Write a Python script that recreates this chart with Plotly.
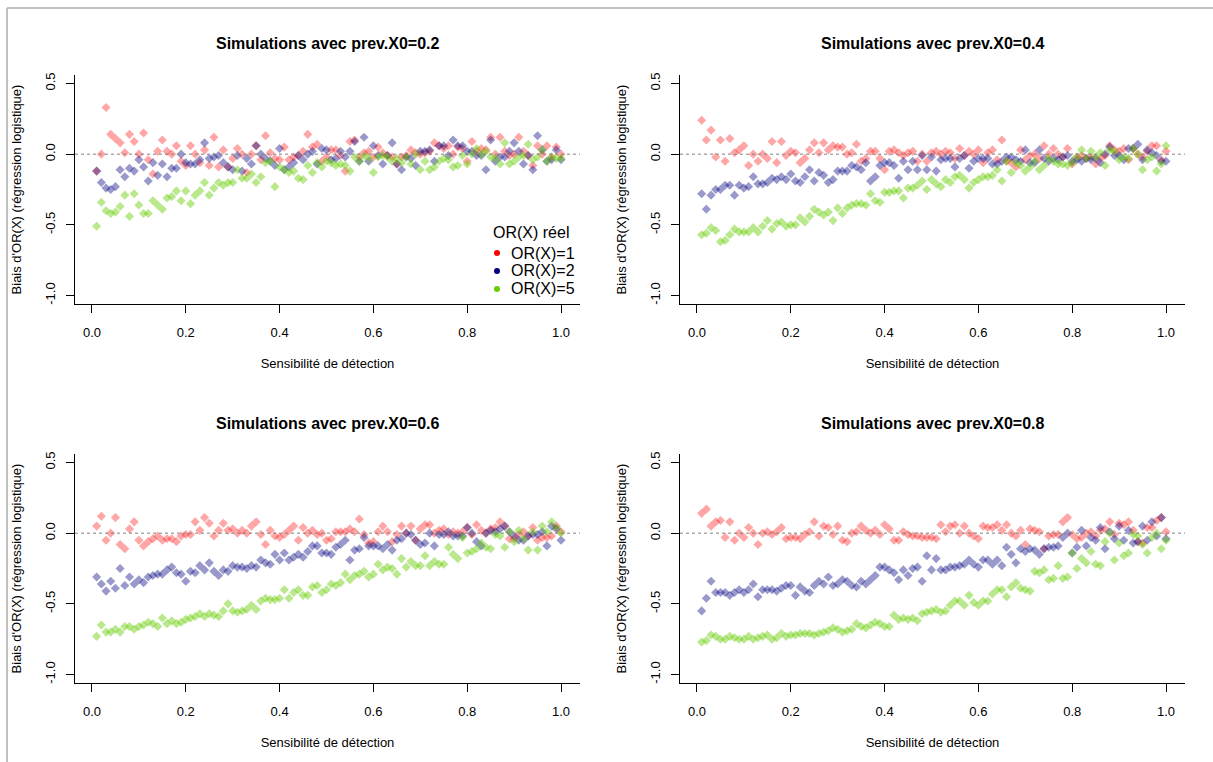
import plotly.graph_objects as go

W, H = 1213, 762

# ---------------- data ----------------
sensibilite = [round(0.01 * k, 2) for k in range(1, 101)]

panel_titles = ["Simulations avec prev.X0=0.2", "Simulations avec prev.X0=0.4",
                "Simulations avec prev.X0=0.6", "Simulations avec prev.X0=0.8"]
legend_title = "OR(X) réel"
series_names = ["OR(X)=1", "OR(X)=2", "OR(X)=5"]
x_tick_vals = [0.0, 0.2, 0.4, 0.6, 0.8, 1.0]
x_tick_labels = ["0.0", "0.2", "0.4", "0.6", "0.8", "1.0"]
y_tick_vals = [-1.0, -0.5, 0.0, 0.5]
y_tick_labels = ["-1.0", "-0.5", "0.0", "0.5"]

# prev.X0 = 0.2
p02_or1 = [-0.12, 0.00, 0.33, 0.14, 0.11, 0.08, 0.01, 0.14, 0.09, 0.00,
           0.15, -0.04, -0.14, 0.02, 0.10, 0.02, 0.00, 0.06, -0.05, -0.08,
           0.06, 0.00, -0.06, 0.03, -0.08, 0.12, -0.09, 0.03, -0.09, -0.03,
           0.04, 0.00, -0.13, 0.00, 0.06, -0.04, 0.13, 0.01, -0.03, -0.04,
           0.05, -0.04, -0.02, -0.01, 0.02, 0.14, 0.05, 0.07, -0.05, -0.02,
           0.03, 0.03, -0.01, -0.12, 0.09, 0.10, -0.02, 0.01, 0.02, -0.02,
           0.05, 0.01, -0.01, -0.02, -0.07, -0.02, -0.01, 0.03, 0.01, 0.00,
           0.01, 0.02, 0.08, 0.06, 0.04, 0.06, 0.00, 0.05, 0.04, -0.05,
           0.09, 0.02, 0.04, 0.03, 0.12, 0.00, 0.12, 0.02, -0.01, 0.00,
           0.12, 0.02, -0.01, -0.08, 0.06, 0.00, 0.06, -0.02, 0.05, 0.00]
p02_or2 = [-0.12, -0.20, -0.24, -0.25, -0.23, -0.11, -0.16, -0.10, -0.12, -0.04,
           -0.09, -0.19, -0.06, -0.15, -0.07, -0.16, -0.10, -0.10, 0.00, -0.06,
           -0.07, -0.07, -0.04, 0.08, -0.03, -0.02, -0.01, -0.06, -0.09, -0.11,
           -0.01, -0.12, -0.03, -0.07, 0.06, 0.00, -0.03, -0.05, -0.08, 0.04,
           -0.11, -0.09, -0.06, -0.01, -0.04, 0.00, 0.02, -0.07, 0.04, 0.03,
           -0.04, -0.03, 0.02, -0.02, 0.02, 0.09, -0.05, 0.12, -0.05, 0.06,
           -0.01, -0.07, -0.01, 0.08, -0.07, -0.11, -0.02, -0.03, -0.08, 0.02,
           0.02, 0.03, -0.05, 0.06, 0.06, -0.01, 0.10, 0.06, 0.06, 0.02,
           0.02, -0.01, -0.01, -0.11, 0.10, -0.05, -0.02, -0.02, 0.02, 0.08,
           0.02, -0.07, -0.01, -0.11, 0.13, 0.03, -0.05, -0.04, 0.03, -0.04]
p02_or5 = [-0.51, -0.34, -0.40, -0.42, -0.41, -0.37, -0.29, -0.44, -0.28, -0.36,
           -0.42, -0.42, -0.33, -0.36, -0.39, -0.31, -0.30, -0.26, -0.33, -0.26,
           -0.35, -0.29, -0.26, -0.20, -0.29, -0.24, -0.20, -0.22, -0.20, -0.20,
           -0.11, -0.17, -0.17, -0.14, -0.20, -0.16, -0.06, -0.05, -0.23, -0.09,
           -0.11, -0.13, -0.12, -0.17, -0.18, -0.08, -0.13, -0.06, -0.09, -0.05,
           -0.06, -0.08, -0.07, -0.08, -0.12, -0.02, -0.05, -0.01, -0.03, -0.13,
           -0.02, -0.01, -0.02, -0.05, -0.03, -0.06, -0.02, -0.07, 0.00, -0.11,
           -0.05, -0.11, -0.09, -0.05, -0.03, -0.04, -0.09, -0.08, -0.01, -0.07,
           0.00, 0.04, 0.00, 0.02, -0.02, -0.03, -0.07, 0.08, -0.07, -0.05,
           -0.02, -0.01, 0.07, -0.04, -0.02, 0.03, -0.05, -0.02, -0.03, -0.03]

# prev.X0 = 0.4
p04_or1 = [0.24, 0.10, 0.17, -0.02, 0.10, -0.05, 0.11, 0.01, 0.03, 0.06,
           -0.08, 0.00, -0.05, 0.00, -0.03, 0.09, -0.06, 0.09, -0.01, 0.02,
           0.01, -0.06, -0.03, 0.03, 0.08, 0.01, 0.08, 0.03, 0.06, 0.05,
           0.05, 0.00, 0.01, 0.07, -0.05, -0.03, 0.02, 0.02, -0.03, -0.11,
           0.02, 0.03, 0.01, -0.01, 0.01, 0.02, -0.05, 0.00, -0.05, 0.01,
           0.02, 0.00, 0.02, 0.01, -0.03, 0.04, -0.01, 0.02, 0.00, 0.03,
           -0.06, 0.01, 0.03, -0.04, 0.10, -0.05, -0.06, -0.09, 0.03, -0.04,
           -0.01, 0.00, -0.03, 0.06, 0.00, 0.04, 0.00, -0.02, 0.04, -0.07,
           -0.02, -0.01, -0.03, -0.02, -0.07, -0.03, -0.01, 0.06, 0.03, 0.02,
           0.04, -0.04, 0.04, 0.00, -0.02, 0.02, 0.06, 0.06, -0.04, 0.02]
p04_or2 = [-0.28, -0.39, -0.29, -0.25, -0.25, -0.22, -0.22, -0.29, -0.22, -0.24,
           -0.23, -0.16, -0.21, -0.21, -0.20, -0.17, -0.18, -0.16, -0.18, -0.14,
           -0.19, -0.20, -0.16, -0.11, -0.19, -0.13, -0.15, -0.20, -0.18, -0.12,
           -0.12, -0.12, -0.08, -0.09, -0.11, -0.06, -0.19, -0.16, -0.08, -0.06,
           -0.06, -0.08, -0.17, -0.05, -0.11, -0.05, -0.11, -0.01, -0.11, -0.02,
           -0.12, -0.04, -0.03, -0.03, -0.09, -0.03, -0.01, -0.10, -0.05, -0.03,
           -0.03, -0.03, -0.07, -0.07, -0.05, -0.02, -0.02, -0.04, -0.05, 0.03,
           -0.06, -0.06, 0.03, -0.03, -0.05, -0.03, -0.04, -0.02, -0.01, -0.05,
           -0.04, -0.05, -0.03, -0.04, -0.03, -0.06, 0.00, 0.05, -0.01, -0.01,
           -0.04, 0.04, 0.04, 0.07, -0.04, 0.03, 0.01, -0.01, -0.05, -0.05]
p04_or5 = [-0.57, -0.56, -0.52, -0.54, -0.62, -0.61, -0.57, -0.53, -0.55, -0.55,
           -0.55, -0.52, -0.55, -0.51, -0.47, -0.53, -0.49, -0.48, -0.51, -0.50,
           -0.50, -0.45, -0.48, -0.44, -0.39, -0.41, -0.43, -0.41, -0.47, -0.38,
           -0.42, -0.38, -0.36, -0.35, -0.35, -0.36, -0.28, -0.33, -0.34, -0.27,
           -0.27, -0.26, -0.26, -0.31, -0.24, -0.24, -0.22, -0.19, -0.25, -0.18,
           -0.21, -0.23, -0.18, -0.20, -0.16, -0.15, -0.18, -0.24, -0.20, -0.18,
           -0.16, -0.16, -0.15, -0.11, -0.19, -0.05, -0.13, -0.06, -0.08, -0.12,
           -0.09, -0.05, -0.11, -0.08, -0.03, -0.05, -0.07, -0.07, -0.08, -0.06,
           -0.02, 0.03, -0.03, 0.02, -0.02, 0.01, -0.08, 0.03, 0.02, -0.04,
           -0.02, -0.03, 0.04, 0.00, -0.11, -0.04, -0.02, -0.12, -0.07, 0.06]

# prev.X0 = 0.6
p06_or1 = [0.05, 0.12, -0.05, 0.00, 0.11, -0.08, -0.11, 0.03, 0.08, -0.05,
           -0.09, -0.06, -0.04, -0.02, -0.05, -0.04, -0.04, -0.06, -0.02, -0.01,
           -0.01, 0.08, 0.02, 0.11, 0.07, -0.02, 0.02, 0.07, 0.02, 0.03,
           0.00, 0.02, 0.00, 0.05, 0.08, -0.01, -0.08, 0.02, -0.02, -0.03,
           -0.01, 0.02, 0.05, -0.05, 0.04, 0.00, 0.02, -0.01, 0.00, -0.05,
           -0.04, 0.01, 0.01, 0.01, 0.03, 0.01, 0.10, -0.01, -0.07, -0.06,
           0.01, 0.05, 0.01, -0.06, -0.01, 0.05, 0.00, 0.05, -0.05, 0.03,
           0.06, 0.06, 0.00, 0.02, 0.03, -0.01, 0.01, 0.00, 0.01, 0.04,
           -0.01, 0.06, 0.02, 0.00, 0.03, 0.04, 0.08, 0.05, -0.04, -0.04,
           -0.01, 0.01, -0.02, 0.04, -0.05, -0.03, -0.03, -0.02, 0.05, 0.01]
p06_or2 = [-0.31, -0.36, -0.41, -0.34, -0.39, -0.25, -0.37, -0.31, -0.36, -0.33,
           -0.35, -0.31, -0.30, -0.29, -0.29, -0.26, -0.24, -0.28, -0.29, -0.34,
           -0.27, -0.28, -0.23, -0.26, -0.21, -0.27, -0.30, -0.26, -0.27, -0.23,
           -0.24, -0.24, -0.25, -0.23, -0.24, -0.19, -0.21, -0.22, -0.15, -0.19,
           -0.14, -0.19, -0.17, -0.15, -0.17, -0.13, -0.09, -0.09, -0.14, -0.14,
           -0.15, -0.10, -0.08, -0.05, -0.19, -0.12, -0.11, -0.03, -0.09, -0.09,
           -0.09, -0.11, -0.08, -0.12, -0.05, -0.04, 0.00, -0.01, -0.05, -0.08,
           -0.07, 0.00, -0.09, -0.01, -0.01, 0.01, -0.02, -0.02, -0.02, 0.04,
           0.00, -0.06, -0.09, 0.00, 0.02, 0.01, 0.03, 0.05, 0.01, -0.02,
           -0.05, -0.05, -0.02, -0.01, -0.01, 0.01, -0.09, 0.05, 0.03, -0.05]
p06_or5 = [-0.73, -0.65, -0.70, -0.70, -0.68, -0.70, -0.66, -0.66, -0.68, -0.66,
           -0.65, -0.63, -0.64, -0.66, -0.60, -0.64, -0.62, -0.64, -0.63, -0.61,
           -0.60, -0.59, -0.57, -0.59, -0.57, -0.58, -0.59, -0.55, -0.50, -0.55,
           -0.56, -0.55, -0.54, -0.51, -0.54, -0.48, -0.46, -0.47, -0.47, -0.46,
           -0.40, -0.46, -0.42, -0.40, -0.44, -0.44, -0.38, -0.37, -0.42, -0.40,
           -0.36, -0.37, -0.35, -0.29, -0.33, -0.30, -0.29, -0.27, -0.31, -0.29,
           -0.22, -0.26, -0.24, -0.25, -0.29, -0.18, -0.24, -0.20, -0.23, -0.23,
           -0.16, -0.23, -0.20, -0.22, -0.22, -0.10, -0.15, -0.18, -0.03, -0.14,
           -0.13, -0.11, -0.07, -0.10, -0.11, -0.01, -0.02, -0.10, 0.01, -0.06,
           0.02, -0.04, -0.12, 0.01, -0.12, 0.05, 0.01, 0.08, 0.04, 0.00]

# prev.X0 = 0.8
p08_or1 = [0.14, 0.17, 0.05, 0.08, 0.09, -0.03, 0.08, -0.05, 0.00, -0.03,
           0.04, 0.00, -0.08, 0.00, 0.01, -0.01, 0.01, 0.04, -0.04, -0.03,
           -0.03, -0.04, -0.01, 0.01, 0.08, -0.02, 0.05, 0.04, -0.01, 0.05,
           -0.05, -0.06, 0.00, 0.01, 0.05, 0.02, 0.00, 0.02, -0.01, 0.06,
           0.03, -0.05, -0.05, 0.01, -0.01, -0.02, -0.02, -0.03, -0.03, -0.03,
           -0.04, 0.06, 0.01, 0.05, 0.06, 0.00, 0.05, 0.00, -0.02, -0.04,
           0.05, 0.04, 0.04, 0.06, 0.02, 0.06, 0.00, -0.02, 0.02, -0.08,
           0.03, 0.02, 0.01, -0.11, -0.02, -0.01, -0.01, 0.08, 0.11, -0.01,
           -0.04, -0.03, 0.00, 0.01, -0.02, 0.02, 0.03, 0.08, -0.01, 0.07,
           0.06, 0.08, 0.02, -0.06, -0.07, 0.04, 0.04, 0.09, 0.11, 0.01]
p08_or2 = [-0.55, -0.46, -0.34, -0.42, -0.42, -0.42, -0.44, -0.42, -0.40, -0.42,
           -0.40, -0.36, -0.45, -0.40, -0.40, -0.40, -0.41, -0.39, -0.37, -0.37,
           -0.44, -0.38, -0.41, -0.42, -0.37, -0.34, -0.36, -0.31, -0.37, -0.36,
           -0.33, -0.34, -0.37, -0.38, -0.34, -0.36, -0.33, -0.30, -0.24, -0.24,
           -0.26, -0.28, -0.33, -0.26, -0.30, -0.25, -0.24, -0.34, -0.16, -0.26,
           -0.18, -0.26, -0.26, -0.24, -0.24, -0.23, -0.22, -0.19, -0.22, -0.24,
           -0.19, -0.19, -0.22, -0.19, -0.23, -0.10, -0.15, -0.21, -0.11, -0.13,
           -0.11, -0.12, -0.15, -0.11, -0.10, -0.10, -0.09, -0.03, 0.00, -0.14,
           -0.10, 0.02, -0.09, -0.03, -0.05, 0.04, -0.11, 0.01, -0.04, 0.05,
           -0.05, 0.02, -0.07, -0.06, 0.05, -0.05, 0.08, -0.02, 0.11, -0.04]
p08_or5 = [-0.77, -0.76, -0.72, -0.73, -0.75, -0.75, -0.73, -0.74, -0.75, -0.75,
           -0.73, -0.75, -0.74, -0.73, -0.72, -0.75, -0.74, -0.71, -0.73, -0.72,
           -0.72, -0.71, -0.71, -0.71, -0.72, -0.71, -0.70, -0.69, -0.67, -0.68,
           -0.70, -0.69, -0.68, -0.64, -0.66, -0.67, -0.65, -0.63, -0.64, -0.66,
           -0.66, -0.58, -0.61, -0.60, -0.61, -0.60, -0.62, -0.57, -0.56, -0.55,
           -0.54, -0.56, -0.55, -0.51, -0.48, -0.48, -0.51, -0.44, -0.49, -0.51,
           -0.48, -0.48, -0.43, -0.40, -0.40, -0.45, -0.38, -0.35, -0.39, -0.40,
           -0.41, -0.27, -0.28, -0.26, -0.33, -0.32, -0.23, -0.32, -0.31, -0.14,
           -0.25, -0.18, -0.21, -0.13, -0.22, -0.23, -0.06, 0.00, -0.19, -0.07,
           -0.16, -0.14, -0.01, -0.02, -0.08, -0.14, -0.03, 0.00, -0.11, -0.05]

panel_series = [
    (p02_or1, p02_or2, p02_or5),
    (p04_or1, p04_or2, p04_or5),
    (p06_or1, p06_or2, p06_or5),
    (p08_or1, p08_or2, p08_or5),
]

# ---------------- styling ----------------
FONT = "Liberation Sans, Arial, Helvetica, sans-serif"
point_colors = ["rgba(255,0,0,0.35)", "rgba(0,0,128,0.40)", "rgba(102,205,0,0.45)"]
legend_colors = ["#FF0000", "#000080", "#66CD00"]

# plot-region pixel boxes (left, right, top, bottom)
boxes = [(75, 580, 75, 304), (680, 1185, 75, 304),
         (75, 580, 454, 683), (680, 1185, 454, 683)]
x_range = [-0.0362, 1.0405]
y_range = [-1.06, 0.56]

fig = go.Figure()
layout = dict(
    width=W, height=H,
    margin=dict(l=0, r=0, t=0, b=0),
    paper_bgcolor="white", plot_bgcolor="white",
    font=dict(family=FONT, color="#000000", size=13),
    showlegend=False,
)

annotations = []
shapes = []

for k, (box, title, series) in enumerate(zip(boxes, panel_titles, panel_series)):
    l, r, t, b = box
    n = "" if k == 0 else str(k + 1)
    xa, ya = "x" + n, "y" + n
    layout["xaxis" + n] = dict(
        domain=[l / W, r / W], range=x_range, anchor=ya,
        tickvals=x_tick_vals, ticktext=x_tick_labels,
        ticks="outside", ticklen=8, tickwidth=1, tickcolor="#000000",
        showline=True, linecolor="#000000", linewidth=1,
        showgrid=False, zeroline=False, automargin=False,
        tickfont=dict(family=FONT, size=13, color="#000000"),
        ticklabelstandoff=8,
        title=dict(text="Sensibilité de détection", standoff=20,
                   font=dict(family=FONT, size=13, color="#000000")),
    )
    layout["yaxis" + n] = dict(
        domain=[1 - b / H, 1 - t / H], range=y_range, anchor=xa,
        tickvals=y_tick_vals, ticktext=y_tick_labels, tickangle=-90,
        ticks="outside", ticklen=8, tickwidth=1, tickcolor="#000000",
        showline=True, linecolor="#000000", linewidth=1,
        showgrid=False, zeroline=False, automargin=False,
        tickfont=dict(family=FONT, size=13, color="#000000"),
        ticklabelstandoff=6,
        title=dict(text="Biais d'OR(X) (régression logistique)", standoff=18,
                   font=dict(family=FONT, size=13, color="#000000")),
    )
    for s, (vals, col) in enumerate(zip(series, point_colors)):
        fig.add_trace(go.Scatter(
            x=sensibilite, y=vals, mode="markers", xaxis=xa, yaxis=ya,
            marker=dict(symbol="diamond", size=7, color=col, line=dict(width=0)),
            name=series_names[s], showlegend=False, hoverinfo="x+y",
        ))
    # dotted reference line at 0
    shapes.append(dict(type="line", xref=xa + " domain", yref=ya,
                       x0=0, x1=1, y0=0, y1=0,
                       line=dict(color="#808080", width=1, dash="dot")))
    annotations.append(dict(
        text="<b>" + title + "</b>", xref="paper", yref="paper",
        x=(l + r) / 2 / W, y=1 - (t - 31) / H, xanchor="center", yanchor="middle",
        showarrow=False, font=dict(family=FONT, size=16, color="#000000"),
    ))

# legend (drawn like the R legend inside the first panel)
LEG_FONT = dict(family=FONT, size=16, color="#000000")
annotations.append(dict(
    text=legend_title, xref="paper", yref="paper",
    x=530.5 / W, y=1 - 233 / H, xanchor="center", yanchor="middle",
    showarrow=False, font=LEG_FONT,
))
item_rows = [253, 271, 289]
for name, col, py in zip(series_names, legend_colors, item_rows):
    annotations.append(dict(
        text=name, xref="paper", yref="paper",
        x=509 / W, y=1 - py / H, xanchor="left", yanchor="middle",
        showarrow=False, font=LEG_FONT,
    ))
    shapes.append(dict(type="circle", xref="paper", yref="paper",
                       x0=(497 - 3) / W, x1=(497 + 3) / W,
                       y0=1 - (py + 3) / H, y1=1 - (py - 3) / H,
                       fillcolor=col, line=dict(width=0)))

# outer frame (light grey) on the left and top
shapes.append(dict(type="line", xref="paper", yref="paper",
                   x0=7 / W, x1=1, y0=1 - 8 / H, y1=1 - 8 / H,
                   line=dict(color="#c0c0c0", width=2)))
shapes.append(dict(type="line", xref="paper", yref="paper",
                   x0=7 / W, x1=7 / W, y0=0, y1=1 - 8 / H,
                   line=dict(color="#c0c0c0", width=2)))

layout["annotations"] = annotations
layout["shapes"] = shapes
fig.update_layout(**layout)

fig.write_html("out.html")
